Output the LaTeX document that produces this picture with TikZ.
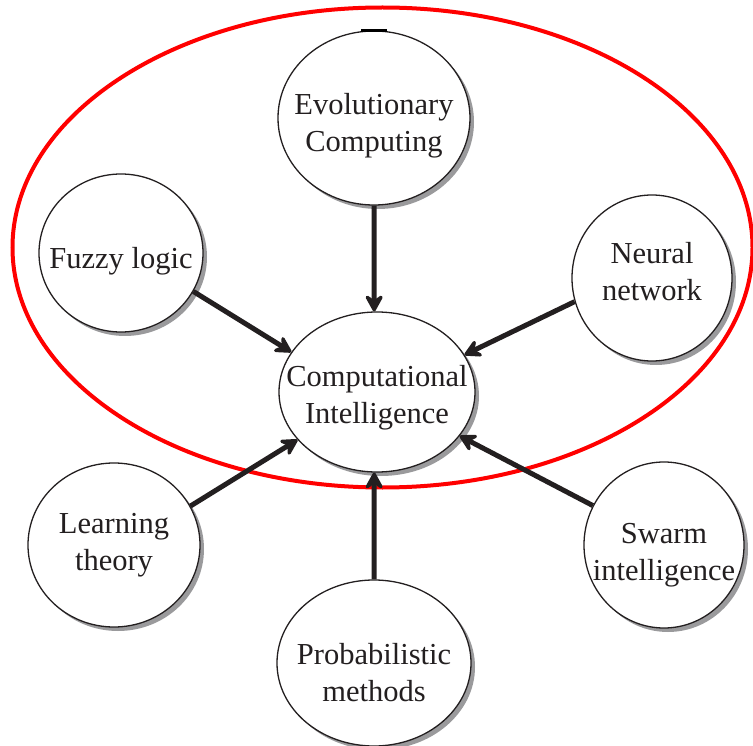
\documentclass[tikz,border=0pt]{standalone}
\usepackage{fontspec}
\setmainfont{Liberation Serif}
\usetikzlibrary{shapes.geometric,shadows,arrows.meta}
\definecolor{ink}{HTML}{231F20}
\definecolor{shade}{HTML}{9A9A9C}
\tikzset{
  bubble/.style={ellipse, draw=ink, line width=1.3pt, fill=white, inner sep=0pt,
    drop shadow={shadow xshift=4pt, shadow yshift=-4pt, fill=shade, opacity=1}},
  caption/.style={text=ink, align=center, inner sep=0pt, font=\fontsize{30.5}{37}\selectfont},
  feed/.style={line width=5pt, draw=ink, -{Stealth[length=21pt,width=23pt,inset=8pt,round]}}
}
\begin{document}
\begin{tikzpicture}[x=1pt,y=-1pt]
\useasboundingbox (0,0) rectangle (753,746);
\draw[red, line width=4pt] (382.5,247.5) ellipse [x radius=370, y radius=240];
\node[bubble, minimum width=192pt, minimum height=174pt,
  label={[caption, yshift=-8pt]center:{Evolutionary\\Computing}}] (evo) at (374,118) {};
\node[bubble, minimum width=196pt, minimum height=160pt,
  label={[caption, yshift=-6pt]center:{Computational\\Intelligence}}] (ci) at (377,392) {};
\node[bubble, minimum width=164pt, minimum height=158pt,
  label={[caption, yshift=-8pt]center:{Fuzzy logic}}] (fuzzy) at (121,253) {};
\node[bubble, minimum width=160pt, minimum height=166pt,
  label={[caption, yshift=6pt]center:{Neural\\network}}] (neural) at (652,278) {};
\node[bubble, minimum width=172pt, minimum height=164pt,
  label={[caption]center:{Learning\\theory}}] (learn) at (114,545) {};
\node[bubble, minimum width=160pt, minimum height=166pt,
  label={[caption, yshift=-10pt]center:{Swarm\\intelligence}}] (swarm) at (664,545) {};
\node[bubble, minimum width=194pt, minimum height=166pt,
  label={[caption, yshift=-10pt]center:{Probabilistic\\methods}}] (prob) at (374,663) {};
\draw[line width=3pt, draw=black] ([xshift=-13pt]evo.north) -- ([xshift=13pt]evo.north);
\draw[feed] (evo.south) -- (ci.92);
\draw[feed] (prob.north) -- (ci.268);
\draw[feed] (fuzzy.332) -- (ci.155);
\draw[feed] (neural.197) -- (ci.23);
\draw[feed] (learn.27) -- (ci.211);
\draw[feed] (swarm.151) -- (ci.332);
\end{tikzpicture}
\end{document}
